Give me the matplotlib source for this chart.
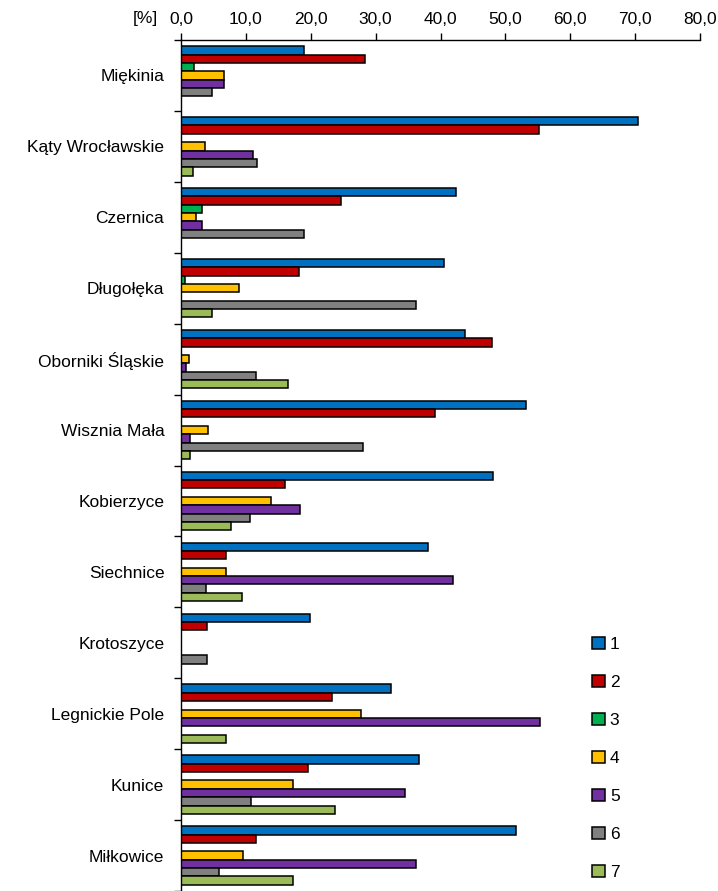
import matplotlib.pyplot as plt
import numpy as np

plt.rcParams['font.family'] = ['Liberation Sans', 'DejaVu Sans']

gminy = ["Miękinia", "Kąty Wrocławskie", "Czernica", "Długołęka",
         "Oborniki Śląskie", "Wisznia Mała", "Kobierzyce", "Siechnice",
         "Krotoszyce", "Legnickie Pole", "Kunice", "Miłkowice"]

s1 = [19.0, 70.5, 42.4, 40.6, 43.7, 53.2, 48.1, 38.0, 19.9, 32.3, 36.7, 51.6]
s2 = [28.4, 55.2, 24.6, 18.2, 48.0, 39.2, 16.1, 7.0, 4.0, 23.2, 19.5, 11.6]
s3 = [2.0, 0, 3.3, 0.6, 0, 0, 0, 0, 0, 0, 0, 0]
s4 = [6.7, 3.7, 2.3, 9.0, 1.3, 4.2, 13.8, 7.0, 0, 27.7, 17.3, 9.6]
s5 = [6.7, 11.1, 3.3, 0, 0.7, 1.4, 18.4, 41.9, 0, 55.4, 34.6, 36.3]
s6 = [4.8, 11.7, 19.0, 36.3, 11.5, 28.0, 10.7, 3.9, 4.0, 0, 10.8, 5.8]
s7 = [0, 1.9, 0, 4.8, 16.5, 1.4, 7.7, 9.4, 0, 6.9, 23.8, 17.2]

series = [s1, s2, s3, s4, s5, s6, s7]
labels = ["1", "2", "3", "4", "5", "6", "7"]
colors = ["#0070C0", "#C00000", "#00B050", "#FFC000", "#7030A0", "#808080", "#9BBB59"]

fig = plt.figure(figsize=(7.18, 8.91), dpi=100)
ax = fig.add_axes([181 / 718, 0.0, (700 - 181) / 718, 1 - 40 / 891])

y = np.arange(len(gminy))
h = 0.118
for i, (vals, col, lab) in enumerate(zip(series, colors, labels)):
    ax.barh(y + (i - 3) * h, vals, height=h, color=col, edgecolor="black",
            linewidth=1.1, label=lab)

ax.set_xlim(0, 80)
ax.set_ylim(len(gminy) - 0.5, -0.5)
ax.xaxis.tick_top()
ax.set_xticks(np.arange(0, 81, 10))
ax.set_xticklabels([f"{v:.1f}".replace(".", ",") for v in range(0, 81, 10)], fontsize=12.5)
ax.tick_params(axis="x", direction="out", length=5, width=1, pad=4)

ax.set_yticks(y)
ax.set_yticklabels(gminy, fontsize=12.5)
ax.tick_params(axis="y", which="major", length=0, pad=12)
ax.set_yticks(np.arange(-0.5, len(gminy), 1), minor=True)
ax.tick_params(axis="y", which="minor", direction="out", length=5, width=1)

ax.spines["right"].set_visible(False)
ax.spines["bottom"].set_visible(False)
ax.spines["top"].set_linewidth(1)
ax.spines["left"].set_linewidth(1)

fig.text(145 / 718, 1 - 18 / 891, "[%]", fontsize=12.5, ha="center", va="center")

ax.legend(loc="upper left", bbox_to_anchor=(576 / 718, 1 - 621 / 891),
          bbox_transform=fig.transFigure, frameon=False, fontsize=12.5,
          handlelength=0.75, handleheight=0.75, handletextpad=0.3,
          labelspacing=1.3)

fig.savefig("out.png", dpi=100)
